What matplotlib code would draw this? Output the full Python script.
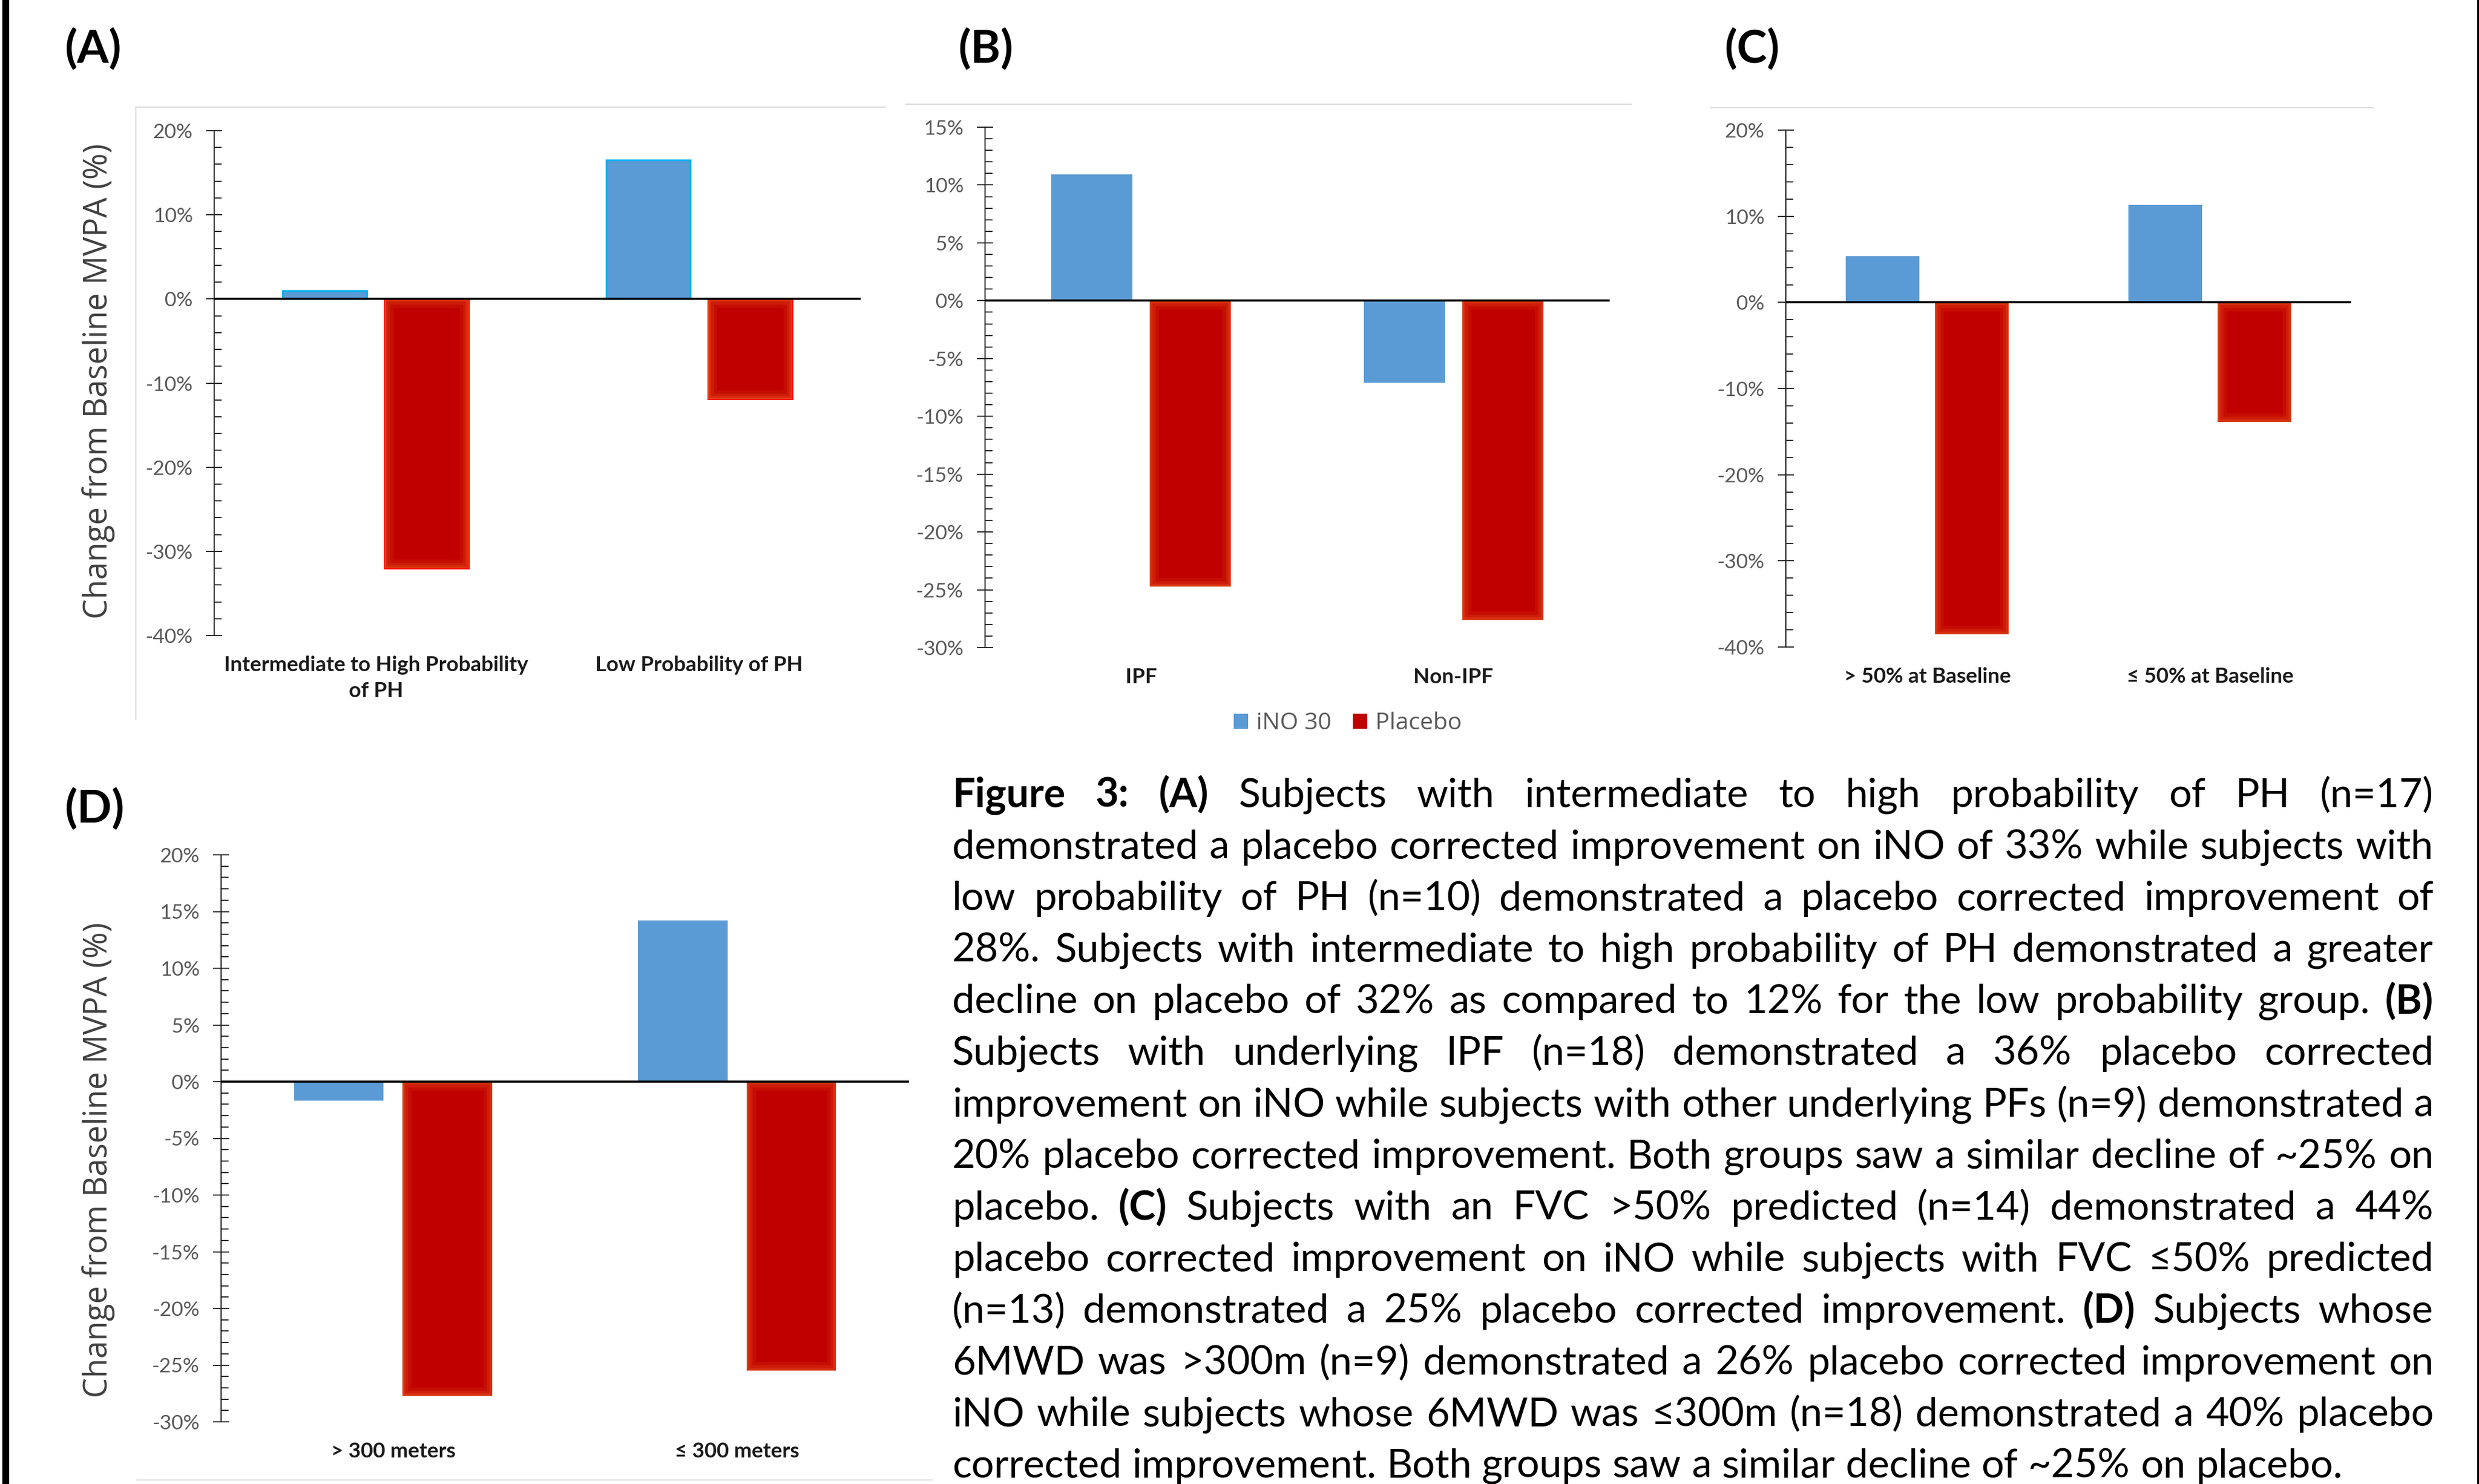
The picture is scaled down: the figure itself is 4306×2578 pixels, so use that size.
import matplotlib
matplotlib.use('Agg')
import matplotlib.pyplot as plt
from matplotlib.lines import Line2D
from matplotlib.patches import Rectangle
from matplotlib.ticker import MultipleLocator, FuncFormatter

plt.rcParams['font.family'] = ['Lato', 'DejaVu Sans']
plt.rcParams['axes.unicode_minus'] = False

# ---- data ----
series = ['iNO 30', 'Placebo']

groups_a = ['Intermediate to High Probability\nof PH', 'Low Probability of PH']
ino_a = [1.0, 16.5]
pla_a = [-32.0, -11.9]

groups_b = ['IPF', 'Non-IPF']
ino_b = [10.9, -7.1]
pla_b = [-24.7, -27.6]

groups_c = ['> 50% at Baseline', '≤ 50% at Baseline']
ino_c = [5.4, 11.3]
pla_c = [-38.5, -13.9]

groups_d = ['> 300 meters', '≤ 300 meters']
ino_d = [-1.7, 14.2]
pla_d = [-27.7, -25.5]

caption = [
    "**Figure **3: **(A) Subjects with intermediate to high probability of PH (n=17)",
    "demonstrated a placebo corrected improvement on iNO of 33% while subjects with",
    "low probability of PH (n=10) demonstrated a placebo corrected improvement of",
    "28%. Subjects with intermediate to high probability of PH demonstrated a greater",
    "decline on placebo of 32% as compared to 12% for the low probability group. **(B)",
    "Subjects with underlying IPF (n=18) demonstrated a 36% placebo corrected",
    "improvement on iNO while subjects with other underlying PFs (n=9) demonstrated a",
    "20% placebo corrected improvement. Both groups saw a similar decline of ~25% on",
    "placebo. **(C) Subjects with an FVC >50% predicted (n=14) demonstrated a 44%",
    "placebo corrected improvement on iNO while subjects with FVC ≤50% predicted",
    "(n=13) demonstrated a 25% placebo corrected improvement. **(D) Subjects whose",
    "6MWD was >300m (n=9) demonstrated a 26% placebo corrected improvement on",
    "iNO while subjects whose 6MWD was ≤300m (n=18) demonstrated a 40% placebo",
    "corrected improvement. Both groups saw a similar decline of ~25% on placebo.",
]

BLUE = '#5B9BD5'
RED = '#C00000'
W, H = 4306, 2578

fig = plt.figure(figsize=(W / 100, H / 100), dpi=100)


def rect(x0, y0, x1, y1):
    # pixel box (top-left origin) -> figure fraction
    return [x0 / W, 1 - y1 / H, (x1 - x0) / W, (y1 - y0) / H]


def fline(x0, y0, x1, y1, color='#D9D9D9', lw=1.4):
    fig.add_artist(Line2D([x0 / W, x1 / W], [1 - y0 / H, 1 - y1 / H],
                          transform=fig.transFigure, color=color, lw=lw))


def glow(ax, bars):
    # soft orange edge inside the red bars
    for p in bars:
        for lw, a in [(22, 0.16), (14, 0.22), (7, 0.3), (2.5, 0.45)]:
            r = Rectangle(p.get_xy(), p.get_width(), p.get_height(), fill=False,
                          edgecolor='#E8561C', lw=lw, alpha=a, zorder=3)
            ax.add_patch(r)
            r.set_clip_path(p)


def panel(box, groups, ino, pla, lims, major, minor, edges=False):
    ax = fig.add_axes(rect(*box))
    x = range(len(groups))
    off, bw = 0.158, 0.26
    if edges:
        b1 = ax.bar([i - off for i in x], ino, bw, color=BLUE, edgecolor='#00B0F0',
                    lw=2.2, label=series[0], zorder=2)
        b2 = ax.bar([i + off for i in x], pla, bw, color=RED, edgecolor='#FF0000',
                    lw=2.2, label=series[1], zorder=2)
    else:
        b1 = ax.bar([i - off for i in x], ino, bw, color=BLUE, lw=0,
                    label=series[0], zorder=2)
        b2 = ax.bar([i + off for i in x], pla, bw, color=RED, lw=0,
                    label=series[1], zorder=2)
    glow(ax, b2)
    ax.axhline(0, color='black', lw=2.6, zorder=5)
    ax.set_xlim(-0.5, len(groups) - 0.5)
    ax.set_ylim(*lims)
    for s in ['top', 'right', 'bottom']:
        ax.spines[s].set_visible(False)
    ax.spines['left'].set_color('#262626')
    ax.spines['left'].set_linewidth(1.5)
    ax.yaxis.set_major_locator(MultipleLocator(major))
    ax.yaxis.set_minor_locator(MultipleLocator(minor))
    ax.yaxis.set_major_formatter(FuncFormatter(lambda v, p: f'{v:.0f}%'))
    ax.tick_params(axis='y', which='major', direction='inout', length=19.5,
                   width=1.4, color='#262626', labelsize=25.5, labelcolor='#595959', pad=17)
    ax.tick_params(axis='y', which='minor', direction='in', length=9.5,
                   width=1.4, color='#262626')
    ax.set_xticks(list(x))
    ax.set_xticklabels(groups, fontweight='bold', fontsize=26.5, color='#1a1a1a',
                       linespacing=1.45)
    ax.tick_params(axis='x', length=0, pad=25)
    ax.patch.set_alpha(0)
    return ax, b1, b2


panel((372, 227, 1495, 1104), groups_a, ino_a, pla_a, (-40, 20), 10, 2, edges=True)
axb, lb1, lb2 = panel((1711, 221, 2796, 1125), groups_b, ino_b, pla_b, (-30, 15), 5, 1)
panel((3102, 226, 4084, 1124), groups_c, ino_c, pla_c, (-40, 20), 10, 2)
panel((384, 1485, 1579, 2470), groups_d, ino_d, pla_d, (-30, 20), 5, 1)

# chart frames and page borders
fline(236, 186, 1538, 186)
fline(236, 186, 236, 1250)
fline(1573, 181, 2834, 181)
fline(2972, 187, 4122, 187)
fline(238, 2571, 1620, 2571)
fline(10, 0, 10, H, color='black', lw=8.5)
fline(W - 2, 0, W - 2, H, color='black', lw=2.5)

# panel letters
for lab, px, py in [('(A)', 112, 86), ('(B)', 1664, 86), ('(C)', 2995, 86), ('(D)', 112, 1406)]:
    fig.text(px / W, 1 - py / H, lab, fontsize=57, fontweight='bold',
             ha='left', va='center', color='black')

# y labels
for py in [662, 2015]:
    fig.text(171 / W, 1 - py / H, 'Change from Baseline MVPA (%)', rotation=90,
             ha='center', va='center', fontsize=40, color='#404040', family='Open Sans')

# legend
fig.legend(handles=[lb1, lb2], loc='center', bbox_to_anchor=(2341 / W, 1 - 1257 / H),
           ncol=2, frameon=False, prop={'family': 'Open Sans', 'size': 29.5},
           labelcolor='#595959', handlelength=0.6, handleheight=0.6,
           handletextpad=0.34, columnspacing=0.93)

# justified caption
renderer = fig.canvas.get_renderer()


def measure(s, bold, size):
    t = fig.text(0, 0, s, fontsize=size, fontweight='bold' if bold else 'normal')
    w = t.get_window_extent(renderer).width
    t.remove()
    return w


lines = []
for ln in caption:
    words = []
    for w in ln.split(' '):
        if w.startswith('**'):
            words.append((w[2:], True))
        else:
            words.append((w, False))
    lines.append(words)

left, right = 1654, 4227
base = 50
sp = measure('x x', False, base) - measure('xx', False, base)
nat = max(sum(measure(w, b, base) for w, b in ws) + sp * (len(ws) - 1) for ws in lines[:-1])
size = min(52, base * (right - left) / nat)
sp = measure('x x', False, size) - measure('xx', False, size)

for i, ws in enumerate(lines):
    widths = [measure(w, b, size) for w, b in ws]
    if i < len(lines) - 1:
        gap = (right - left - sum(widths)) / (len(ws) - 1)
    else:
        gap = sp
    xp = left
    yb = 1402 + i * 89.6
    for (w, b), wd in zip(ws, widths):
        fig.text(xp / W, 1 - yb / H, w, fontsize=size, fontweight='bold' if b else 'normal',
                 ha='left', va='baseline', color='black')
        xp += wd + gap

fig.savefig('out.png', dpi=100, facecolor='white')
